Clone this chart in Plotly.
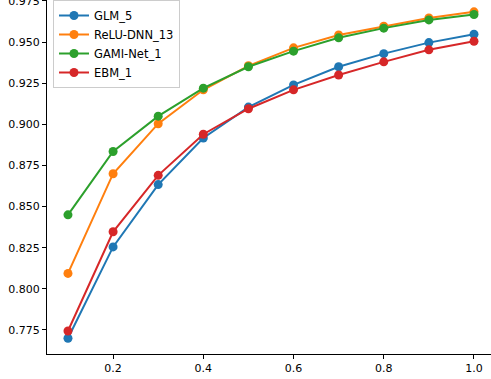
import plotly.graph_objects as go

# x positions shared by all models
x_vals = [0.1, 0.2, 0.3, 0.4, 0.5, 0.6, 0.7, 0.8, 0.9, 1.0]

# scores
glm_5 = [0.770, 0.8255, 0.8634, 0.8917, 0.9105, 0.9240, 0.9350, 0.9430, 0.9497, 0.9548]
relu_dnn_13 = [0.8094, 0.8700, 0.9004, 0.9210, 0.9356, 0.9465, 0.9543, 0.9597, 0.9647, 0.9684]
gami_net_1 = [0.8450, 0.8835, 0.9050, 0.9220, 0.9350, 0.9445, 0.9526, 0.9585, 0.9635, 0.9668]
ebm_1 = [0.7744, 0.8347, 0.8690, 0.8940, 0.9095, 0.9210, 0.9300, 0.9380, 0.9453, 0.9505]

series = [
    ("GLM_5", glm_5, "#1f77b4"),
    ("ReLU-DNN_13", relu_dnn_13, "#ff7f0e"),
    ("GAMI-Net_1", gami_net_1, "#2ca02c"),
    ("EBM_1", ebm_1, "#d62728"),
]

fig = go.Figure()

for name, vals, color in series:
    fig.add_trace(go.Scatter(
        x=x_vals,
        y=vals,
        name=name,
        mode="lines+markers",
        line=dict(color=color, width=2),
        marker=dict(color=color, size=9),
        cliponaxis=False,
    ))

fig.update_layout(
    width=491,
    height=379,
    margin=dict(l=47, r=0, t=0, b=25, autoexpand=False),
    plot_bgcolor="white",
    paper_bgcolor="white",
    font=dict(family="DejaVu Sans", size=11, color="black"),
    showlegend=True,
    legend=dict(
        x=0.0135,
        y=1.0,
        xanchor="left",
        yanchor="top",
        bgcolor="rgba(255,255,255,0.8)",
        bordercolor="#cccccc",
        borderwidth=1,
        font=dict(size=11.5),
    ),
)

fig.update_xaxes(
    range=[0.0535, 1.0377],
    tickvals=[0.2, 0.4, 0.6, 0.8, 1.0],
    ticktext=["0.2", "0.4", "0.6", "0.8", "1.0"],
    automargin=False,
    showgrid=False,
    zeroline=False,
    showline=True,
    linecolor="black",
    linewidth=1,
    ticks="outside",
    ticklen=4,
    tickcolor="black",
)

fig.update_yaxes(
    range=[0.7604, 0.9756],
    tickvals=[0.775, 0.800, 0.825, 0.850, 0.875, 0.900, 0.925, 0.950, 0.975],
    ticktext=["0.775", "0.800", "0.825", "0.850", "0.875", "0.900", "0.925", "0.950", "0.975"],
    ticklabeloverflow="allow",
    automargin=False,
    showgrid=False,
    zeroline=False,
    showline=True,
    linecolor="black",
    linewidth=1,
    ticks="outside",
    ticklen=4,
    tickcolor="black",
)

# the page body has a default 8px margin; drop it so the chart fills the window
fig.write_html(
    "out.html",
    config={"displayModeBar": False},
    post_script="document.body.style.margin='0';",
)
